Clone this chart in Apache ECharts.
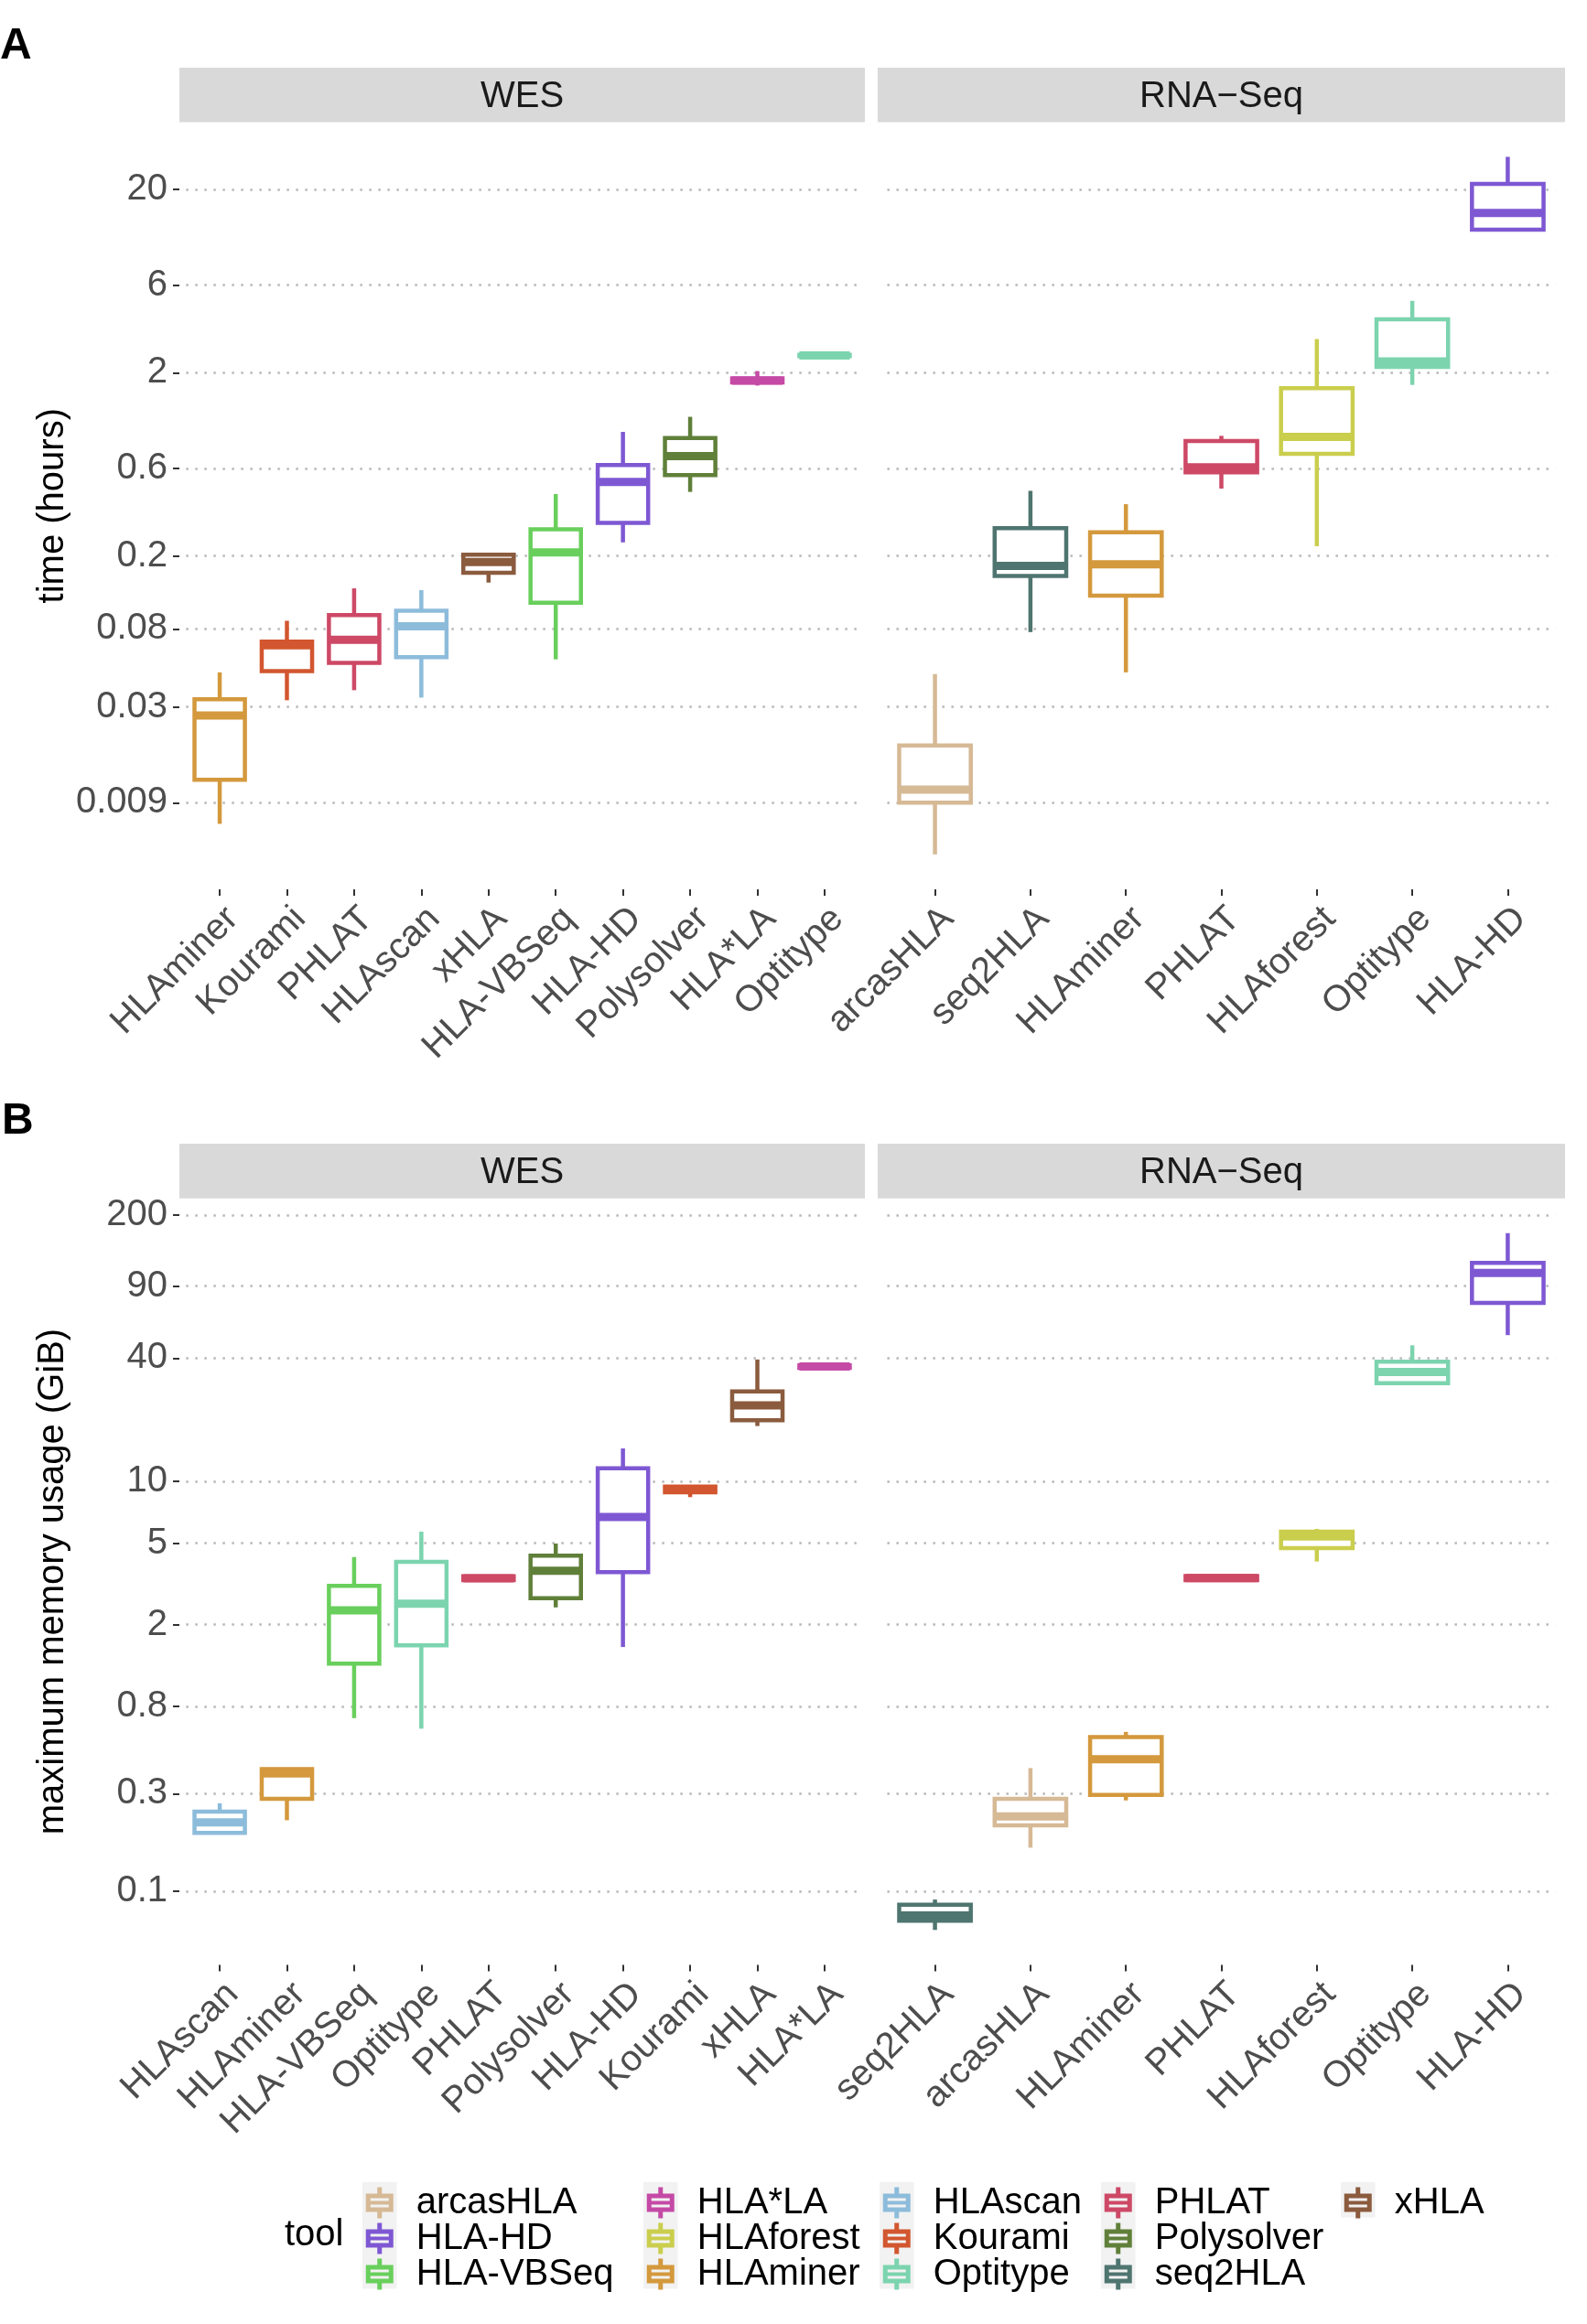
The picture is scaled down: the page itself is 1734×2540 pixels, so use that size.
<!DOCTYPE html>
<html>
<head>
<meta charset="utf-8">
<title>HLA typing tools: run time and memory</title>
<script src="https://cdn.jsdelivr.net/npm/echarts@6/dist/echarts.min.js"></script>
<style>
html, body { margin: 0; padding: 0; background: #ffffff; }
#chart { width: 1734px; height: 2540px; }
</style>
</head>
<body>
<div id="chart"></div>
<script>
// tools in legend order, with their colours
const tools = ['arcasHLA', 'HLA-HD', 'HLA-VBSeq', 'HLA*LA', 'HLAforest', 'HLAminer', 'HLAscan',
    'Kourami', 'Optitype', 'PHLAT', 'Polysolver', 'seq2HLA', 'xHLA'];
const toolColors = ['#D6B995', '#7E58D3', '#69CF5C', '#C54AA6', '#CACE4D', '#D4993D', '#8DBCDB',
    '#D2562F', '#7CD4AF', '#CD4966', '#60803A', '#4F7570', '#8B5B3E'];

// y tick labels
const timeTicks = [20, 6, 2, 0.6, 0.2, 0.08, 0.03, 0.009];
const memTicks = [200, 90, 40, 10, 5, 2, 0.8, 0.3, 0.1];

// each row: [lower whisker, Q1, median, Q3, upper whisker]
// A - time (hours)
const timeWesTools = ['HLAminer', 'Kourami', 'PHLAT', 'HLAscan', 'xHLA', 'HLA-VBSeq', 'HLA-HD', 'Polysolver', 'HLA*LA', 'Optitype'];
const timeWesStats = [
    [0.0069, 0.0120, 0.0269, 0.0330, 0.0463],
    [0.0326, 0.0470, 0.0650, 0.0682, 0.0885],
    [0.0370, 0.0522, 0.0697, 0.0950, 0.133],
    [0.0337, 0.0560, 0.0826, 0.1005, 0.130],
    [0.143, 0.162, 0.185, 0.203, 0.205],
    [0.0545, 0.111, 0.209, 0.279, 0.435],
    [0.237, 0.303, 0.507, 0.626, 0.950],
    [0.447, 0.552, 0.701, 0.879, 1.148],
    [1.70, 1.77, 1.81, 1.86, 2.04],
    [2.45, 2.46, 2.48, 2.50, 2.51]
];
const timeRnaTools = ['arcasHLA', 'seq2HLA', 'HLAminer', 'PHLAT', 'HLAforest', 'Optitype', 'HLA-HD'];
const timeRnaStats = [
    [0.0047, 0.0090, 0.0106, 0.0185, 0.0453],
    [0.0768, 0.1555, 0.1765, 0.283, 0.453],
    [0.0463, 0.1214, 0.180, 0.269, 0.383],
    [0.466, 0.572, 0.609, 0.848, 0.904],
    [0.226, 0.721, 0.891, 1.643, 3.05],
    [1.714, 2.148, 2.304, 3.91, 4.93],
    [12.05, 12.05, 14.89, 21.45, 30.1]
];

// B - maximum memory usage (GiB)
const memWesTools = ['HLAscan', 'HLAminer', 'HLA-VBSeq', 'Optitype', 'PHLAT', 'Polysolver', 'HLA-HD', 'Kourami', 'xHLA', 'HLA*LA'];
const memWesStats = [
    [0.1926, 0.1926, 0.217, 0.245, 0.269],
    [0.2223, 0.2825, 0.376, 0.395, 0.395],
    [0.700, 1.291, 2.35, 3.094, 4.28],
    [0.622, 1.585, 2.535, 4.06, 5.69],
    [3.25, 3.30, 3.37, 3.45, 3.50],
    [2.43, 2.695, 3.67, 4.35, 4.98],
    [1.557, 3.61, 6.71, 11.6, 14.5],
    [8.39, 8.85, 9.14, 9.45, 9.61],
    [18.65, 19.89, 23.55, 27.5, 39.4],
    [35.4, 35.9, 36.4, 36.9, 37.4]
];
const memRnaTools = ['seq2HLA', 'arcasHLA', 'HLAminer', 'PHLAT', 'HLAforest', 'Optitype', 'HLA-HD'];
const memRnaStats = [
    [0.0648, 0.0718, 0.0763, 0.0860, 0.0912],
    [0.1633, 0.2097, 0.2323, 0.2825, 0.3995],
    [0.2777, 0.2954, 0.441, 0.5666, 0.600],
    [3.25, 3.30, 3.38, 3.46, 3.50],
    [4.07, 4.73, 5.39, 5.69, 5.87],
    [30.2, 30.2, 34.2, 38.4, 46.2],
    [51.8, 74.5, 104.1, 116.7, 163]
];

const FONT = 'Liberation Sans, Arial, Helvetica, sans-serif';
const LABEL_GREY = '#4D4D4D';

// ggplot-like box: whiskers without caps, white box, thick median
function renderBox(params, api) {
    const i = api.value(0);
    const lo = api.coord([i, api.value(1)]);
    const q1 = api.coord([i, api.value(2)]);
    const md = api.coord([i, api.value(3)]);
    const q3 = api.coord([i, api.value(4)]);
    const hi = api.coord([i, api.value(5)]);
    const half = api.size([1, 0], [i, 1])[0] * 0.75 / 2;
    const color = api.visual('color');
    const cx = md[0];
    const thin = {stroke: color, lineWidth: 4.5};
    return {
        type: 'group',
        children: [
            {type: 'line', shape: {x1: cx, y1: q3[1], x2: cx, y2: hi[1]}, style: thin},
            {type: 'line', shape: {x1: cx, y1: q1[1], x2: cx, y2: lo[1]}, style: thin},
            {type: 'rect', shape: {x: cx - half, y: q3[1], width: 2 * half, height: q1[1] - q3[1]},
                style: {fill: '#ffffff', stroke: color, lineWidth: 4.5}},
            {type: 'line', shape: {x1: cx - half, y1: md[1], x2: cx + half, y2: md[1]},
                style: {stroke: color, lineWidth: 9}}
        ]
    };
}

function boxSeries(names, stats, axisIndex) {
    return names.map(function (name, i) {
        return {
            type: 'custom',
            name: name,
            xAxisIndex: axisIndex,
            yAxisIndex: axisIndex,
            itemStyle: {color: toolColors[tools.indexOf(name)]},
            encode: {x: 0, y: [1, 2, 3, 4, 5]},
            data: [[i].concat(stats[i])],
            renderItem: renderBox,
            clip: false
        };
    });
}

function xAxisFor(gridIndex, names) {
    return {
        type: 'category',
        gridIndex: gridIndex,
        data: names,
        boundaryGap: true,
        axisLine: {show: false},
        axisTick: {show: true, alignWithLabel: true, length: 7, lineStyle: {color: '#333333', width: 2}},
        axisLabel: {
            interval: 0, rotate: 45, align: 'right', verticalAlign: 'top', margin: 12,
            fontSize: 40, color: LABEL_GREY, fontFamily: FONT
        },
        splitLine: {show: false}
    };
}

function yAxisFor(gridIndex, ticks, min, max, name, left) {
    return {
        type: 'log',
        logBase: 10,
        gridIndex: gridIndex,
        min: min,
        max: max,
        offset: left ? 7.34 : 0,
        name: left ? name : '',
        nameLocation: 'middle',
        nameGap: 118,
        nameTextStyle: {fontSize: 40, color: '#000000', fontFamily: FONT},
        axisLine: {show: false},
        axisTick: {show: left, length: 7, customValues: ticks, lineStyle: {color: '#333333', width: 2}},
        axisLabel: {
            show: left, customValues: ticks, margin: 13, fontSize: 40, color: LABEL_GREY, fontFamily: FONT,
            formatter: function (v) { return String(+Number(v).toPrecision(6)); }
        },
        splitLine: {show: true, lineStyle: {color: '#B8B8B8', width: 2.5, type: [2.5, 7.5]}}
    };
}

// panel geometry (ggplot facets)
const wesLeft = 196, wesW = 749, rnaLeft = 959, rnaW = 751;
const wesUnit = wesW / 10.2, rnaUnit = rnaW / 7.2;
const panelA = {top: 133.4, h: 838.6, stripTop: 74};
const panelB = {top: 1309.7, h: 837.7, stripTop: 1250};

function gridFor(left, width, unit, panel) {
    return {
        left: left + unit * 0.1, top: panel.top,
        width: width - unit * 0.2, height: panel.h,
        containLabel: false, outerBoundsMode: 'none'
    };
}

// legend: 5 columns of 3, filled column-wise
const legendCols = [];
for (let i = 0; i < tools.length; i += 3) legendCols.push(tools.slice(i, i + 3));
const legendKeyLeft = [396, 703, 961, 1203, 1465];
const legendTop = 2387.5;
const keyIcon = 'path://M12.5 0H17.5V7H30V27H17.5V34H12.5V27H0V7H12.5Z M5 12V15H25V12Z M5 19V22H25V19Z';

const legends = legendCols.map(function (names, c) {
    return {
        orient: 'vertical',
        left: legendKeyLeft[c] + 3.75,
        top: legendTop,
        padding: 0,
        itemWidth: 30,
        itemHeight: 34,
        itemGap: -1,
        icon: keyIcon,
        itemStyle: {borderWidth: 0},
        data: names,
        textStyle: {fontSize: 40, color: '#000000', fontFamily: FONT, lineHeight: 34, padding: [0, 0, 0, 20]}
    };
});

const graphics = [];
function addStrip(x, y, w, h, text) {
    graphics.push({type: 'rect', left: x, top: y, shape: {width: w, height: h},
        style: {fill: '#D9D9D9'}, silent: true});
    graphics.push({type: 'text', x: x + w / 2, y: y + h / 2 + 2,
        style: {text: text, fill: '#1A1A1A', font: '40px ' + FONT, textAlign: 'center', textVerticalAlign: 'middle'}});
}
addStrip(wesLeft, panelA.stripTop, wesW, panelA.top - panelA.stripTop, 'WES');
addStrip(rnaLeft, panelA.stripTop, rnaW, panelA.top - panelA.stripTop, 'RNA\u2212Seq');
addStrip(wesLeft, panelB.stripTop, wesW, panelB.top - panelB.stripTop, 'WES');
addStrip(rnaLeft, panelB.stripTop, rnaW, panelB.top - panelB.stripTop, 'RNA\u2212Seq');
graphics.push({type: 'text', x: 0, y: 51.2,
    style: {text: 'A', fill: '#000000', font: 'bold 48px ' + FONT, textVerticalAlign: 'middle'}});
graphics.push({type: 'text', x: 2, y: 1225.8,
    style: {text: 'B', fill: '#000000', font: 'bold 48px ' + FONT, textVerticalAlign: 'middle'}});
graphics.push({type: 'text', x: 311, y: 2443,
    style: {text: 'tool', fill: '#000000', font: '40px ' + FONT, textVerticalAlign: 'middle'}});
legendCols.forEach(function (names, c) {
    graphics.push({type: 'rect', left: legendKeyLeft[c], top: 2385, z: -1,
        shape: {width: 37.5, height: 39 * names.length - 0.5}, style: {fill: '#F2F2F2'}, silent: true});
});

const chart = echarts.init(document.getElementById('chart'), null, {renderer: 'canvas'});
chart.setOption({
    backgroundColor: '#ffffff',
    animation: false,
    textStyle: {fontFamily: FONT},
    grid: [
        gridFor(wesLeft, wesW, wesUnit, panelA),
        gridFor(rnaLeft, rnaW, rnaUnit, panelA),
        gridFor(wesLeft, wesW, wesUnit, panelB),
        gridFor(rnaLeft, rnaW, rnaUnit, panelB)
    ],
    xAxis: [
        xAxisFor(0, timeWesTools),
        xAxisFor(1, timeRnaTools),
        xAxisFor(2, memWesTools),
        xAxisFor(3, memRnaTools)
    ],
    yAxis: [
        yAxisFor(0, timeTicks, 0.00303, 46.6, 'time (hours)', true),
        yAxisFor(1, timeTicks, 0.00303, 46.6, '', false),
        yAxisFor(2, memTicks, 0.0438, 241, 'maximum memory usage (GiB)', true),
        yAxisFor(3, memTicks, 0.0438, 241, '', false)
    ],
    legend: legends,
    graphic: graphics,
    series: [].concat(
        boxSeries(timeWesTools, timeWesStats, 0),
        boxSeries(timeRnaTools, timeRnaStats, 1),
        boxSeries(memWesTools, memWesStats, 2),
        boxSeries(memRnaTools, memRnaStats, 3)
    )
});
</script>
</body>
</html>
